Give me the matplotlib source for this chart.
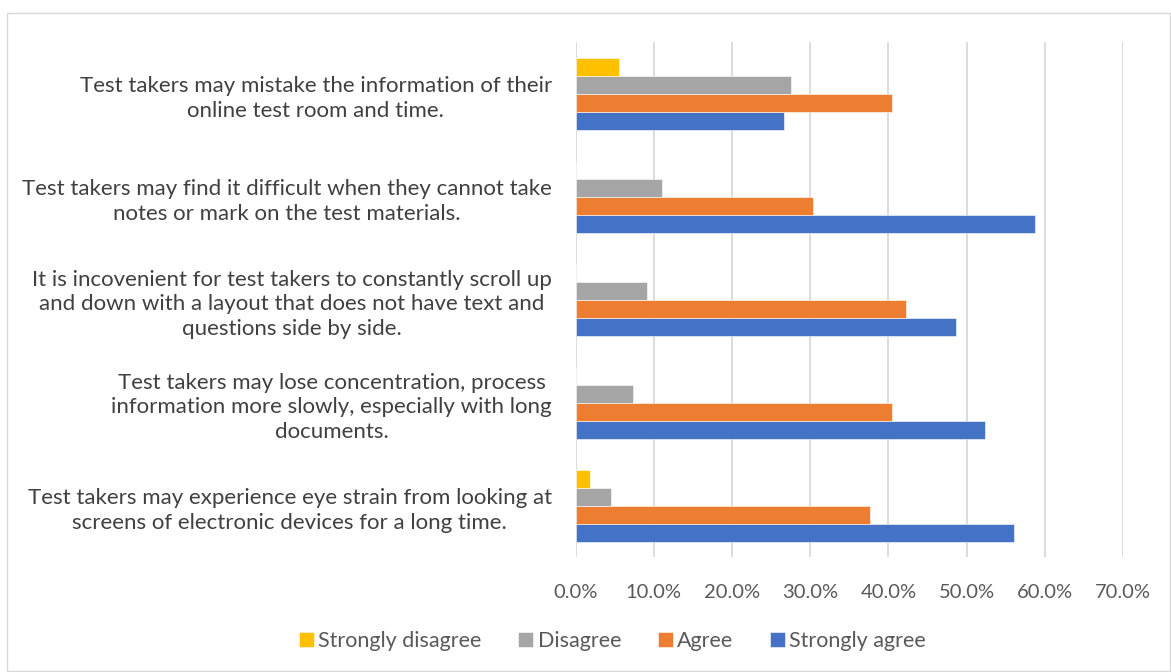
import numpy as np
import matplotlib.pyplot as plt
from matplotlib.patches import Rectangle

# Statements (bottom to top, as drawn on the axis)
statements = [
    "Test takers may experience eye strain from looking at\nscreens of electronic devices for a long time.",
    "Test takers may lose concentration, process\ninformation more slowly, especially with long\ndocuments.",
    "It is incovenient for test takers to constantly scroll up\nand down with a layout that does not have text and\nquestions side by side.",
    "Test takers may find it difficult when they cannot take\nnotes or mark on the test materials.",
    "Test takers may mistake the information of their\nonline test room and time.",
]

strongly_disagree = [0.018, 0.0, 0.0, 0.0, 0.055]
disagree = [0.045, 0.073, 0.091, 0.110, 0.275]
agree = [0.377, 0.404, 0.422, 0.303, 0.404]
strongly_agree = [0.560, 0.523, 0.487, 0.587, 0.266]

x_ticks = [0.0, 0.1, 0.2, 0.3, 0.4, 0.5, 0.6, 0.7]

plt.rcParams['font.family'] = ['Lato', 'DejaVu Sans']

fig = plt.figure(figsize=(11.71, 6.72), dpi=100)
ax = fig.add_axes([0.4915, 0.1704, 0.4676, 0.7666])

# Excel-like chart border
fig.patches.append(Rectangle((0.006, 0.002), 0.993, 0.978, transform=fig.transFigure,
                             fill=False, edgecolor='#d9d9d9', linewidth=1.0))

y = np.arange(len(statements))
h = 0.173

series = [
    ("Strongly agree", strongly_agree, "#4472c4", -1.5),
    ("Agree", agree, "#ed7d31", -0.5),
    ("Disagree", disagree, "#a5a5a5", 0.5),
    ("Strongly disagree", strongly_disagree, "#ffc000", 1.5),
]
handles = {}
for name, vals, color, off in series:
    bars = ax.barh(y + off * h, vals, height=h, color=color, edgecolor='white',
                   linewidth=0.4, zorder=3)
    handles[name] = bars

ax.set_xlim(0, 0.7)
ax.set_ylim(-0.5, len(statements) - 0.5)
ax.set_xticks(x_ticks)
ax.set_xticklabels([f"{t*100:.1f}%" for t in x_ticks], fontsize=14.5, color='#595959')
ax.set_yticks(y)
ax.set_yticklabels(statements, fontsize=16, color='#404040', multialignment='center',
                   linespacing=1.3)
ax.tick_params(axis='both', length=0)
ax.tick_params(axis='y', pad=17)
ax.tick_params(axis='x', pad=19)
ax.grid(axis='x', color='#d9d9d9', linewidth=1.3, zorder=0)
for s in ax.spines.values():
    s.set_visible(False)

order = ["Strongly disagree", "Disagree", "Agree", "Strongly agree"]
fig.legend([handles[n] for n in order], order, loc='center', bbox_to_anchor=(0.523, 0.046),
           ncol=4, frameon=False, fontsize=15.5, labelcolor='#595959',
           handlelength=0.7, handleheight=0.7, handletextpad=0.2, columnspacing=1.7)

fig.savefig("out.png", dpi=100)
